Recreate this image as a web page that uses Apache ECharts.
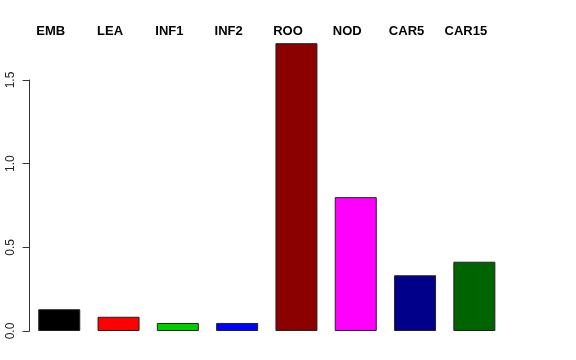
<!DOCTYPE html>
<html>
<head>
<meta charset="utf-8">
<script src="https://cdn.jsdelivr.net/npm/echarts@6/dist/echarts.min.js"></script>
<style>
html,body{margin:0;padding:0;background:#fff;}
#chart{width:576px;height:360px;}
</style>
</head>
<body>
<div id="chart"></div>
<script>
var categories = ['EMB', 'LEA', 'INF1', 'INF2', 'ROO', 'NOD', 'CAR5', 'CAR15'];
var values = [0.13, 0.085, 0.048, 0.048, 1.72, 0.80, 0.333, 0.414];
var barColors = ['#000000', '#FF0000', '#00CD00', '#0000FF', '#8B0000', '#FF00FF', '#00008B', '#006400'];
var yTicks = [0, 0.5, 1.0, 1.5];

var chart = echarts.init(document.getElementById('chart'), null, {renderer: 'canvas'});
chart.setOption({
  animation: false,
  backgroundColor: '#ffffff',
  grid: {left: 29.6, top: 80, width: 474.4, bottom: 29, containLabel: false},
  xAxis: {
    type: 'category',
    position: 'top',
    data: categories,
    boundaryGap: true,
    axisLine: {show: false},
    axisTick: {show: false},
    splitLine: {show: false},
    axisLabel: {
      show: true,
      interval: 0,
      margin: 42,
      padding: [0, 17, 0, 0],
      fontFamily: 'Liberation Sans',
      fontWeight: 'bold',
      fontSize: 13,
      color: '#000'
    }
  },
  yAxis: {
    type: 'value',
    min: yTicks[0],
    max: yTicks[yTicks.length - 1],
    interval: 0.5,
    axisLine: {show: true, lineStyle: {color: '#333', width: 1}},
    axisTick: {show: true, length: 7, lineStyle: {color: '#333', width: 1}},
    splitLine: {show: false},
    axisLabel: {
      rotate: 90,
      margin: 13,
      fontFamily: 'Liberation Sans',
      fontSize: 12,
      color: '#222',
      formatter: function (v) { return v.toFixed(1); }
    }
  },
  series: [{
    type: 'bar',
    data: values.map(function (v, i) {
      return {value: v, itemStyle: {color: barColors[i]}};
    }),
    barWidth: 42,
    clip: false,
    itemStyle: {borderColor: '#222', borderWidth: 1}
  }]
});
</script>
</body>
</html>
